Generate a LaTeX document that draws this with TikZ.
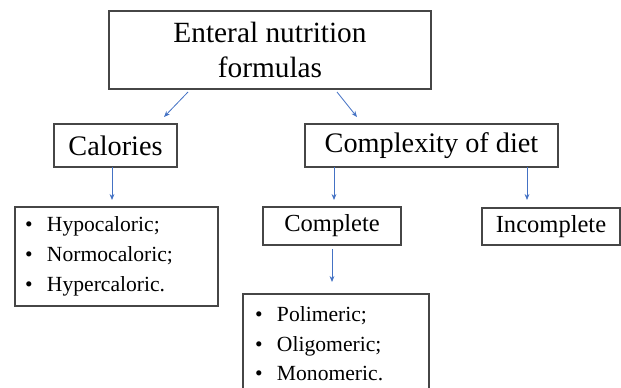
\documentclass[tikz,border=0pt]{standalone}
\usepackage{fontspec}
\setmainfont{Liberation Serif}
\usetikzlibrary{arrows.meta}
\definecolor{arrblue}{RGB}{68,114,196}
\definecolor{boxgray}{RGB}{70,70,70}
\tikzset{
  box/.style={draw=boxgray, line width=0.8pt, inner sep=0pt, align=center, text=black},
  listbox/.style={draw=boxgray, line width=0.8pt, inner sep=0pt, align=left, text=black},
  arr/.style={draw=arrblue, line width=0.6pt, -{Stealth[length=4.5pt,width=3.6pt]}}
}
\newcommand{\bul}[1]{\makebox[16.5pt][l]{\textbullet}#1}
\begin{document}
\begin{tikzpicture}[x=0.75pt,y=-0.75pt]
\useasboundingbox (0,0) rectangle (621,388);
\clip (0,0) rectangle (621,388);
\node[box, minimum width=241.5pt, minimum height=58.5pt,
      font=\fontsize{22}{26}\selectfont] (top) at (270,50) {Enteral nutrition\\formulas};
\node[box, minimum width=92.25pt, minimum height=32.25pt,
      font=\fontsize{21.2}{25}\selectfont] (cal) at (115.5,145.5) {Calories};
\node[box, minimum width=189.75pt, minimum height=32.25pt,
      font=\fontsize{21.2}{25}\selectfont] (cx) at (431.5,145.5) {Complexity of diet};
\node[listbox, minimum width=152.25pt, minimum height=74.25pt, text width=137.25pt,
      font=\fontsize{16.2}{22.5}\selectfont] (hyp) at (116.5,256.5)
      {\bul{Hypocaloric;}\\\bul{Normocaloric;}\\\bul{Hypercaloric.}};
\node[box, minimum width=103.5pt, minimum height=28.5pt,
      font=\fontsize{18.4}{22}\selectfont] (comp) at (332,226) {Complete};
\node[box, minimum width=103.5pt, minimum height=27.75pt,
      font=\fontsize{18.4}{22}\selectfont] (inc) at (551,226.5) {Incomplete};
\node[listbox, minimum width=139.5pt, minimum height=75pt, text width=121.5pt,
      font=\fontsize{16.2}{22.2}\selectfont] (poli) at (336,344)
      {\bul{Polimeric;}\\\bul{Oligomeric;}\\\bul{Monomeric.}};
% connector end points
\coordinate (a1s) at (188,92);  \coordinate (a1e) at (164,117);
\coordinate (a2s) at (337,92);  \coordinate (a2e) at (357,117);
\coordinate (a3s) at (112,167); \coordinate (a3e) at (112,200);
\coordinate (a4s) at (334,167); \coordinate (a4e) at (334,200);
\coordinate (a5s) at (527,167); \coordinate (a5e) at (527,200);
\coordinate (a6s) at (332,249); \coordinate (a6e) at (332,282);
\draw[arr] (a1s) -- (a1e);
\draw[arr] (a2s) -- (a2e);
\draw[arr] (a3s) -- (a3e);
\draw[arr] (a4s) -- (a4e);
\draw[arr] (a5s) -- (a5e);
\draw[arr] (a6s) -- (a6e);
\end{tikzpicture}
\end{document}
